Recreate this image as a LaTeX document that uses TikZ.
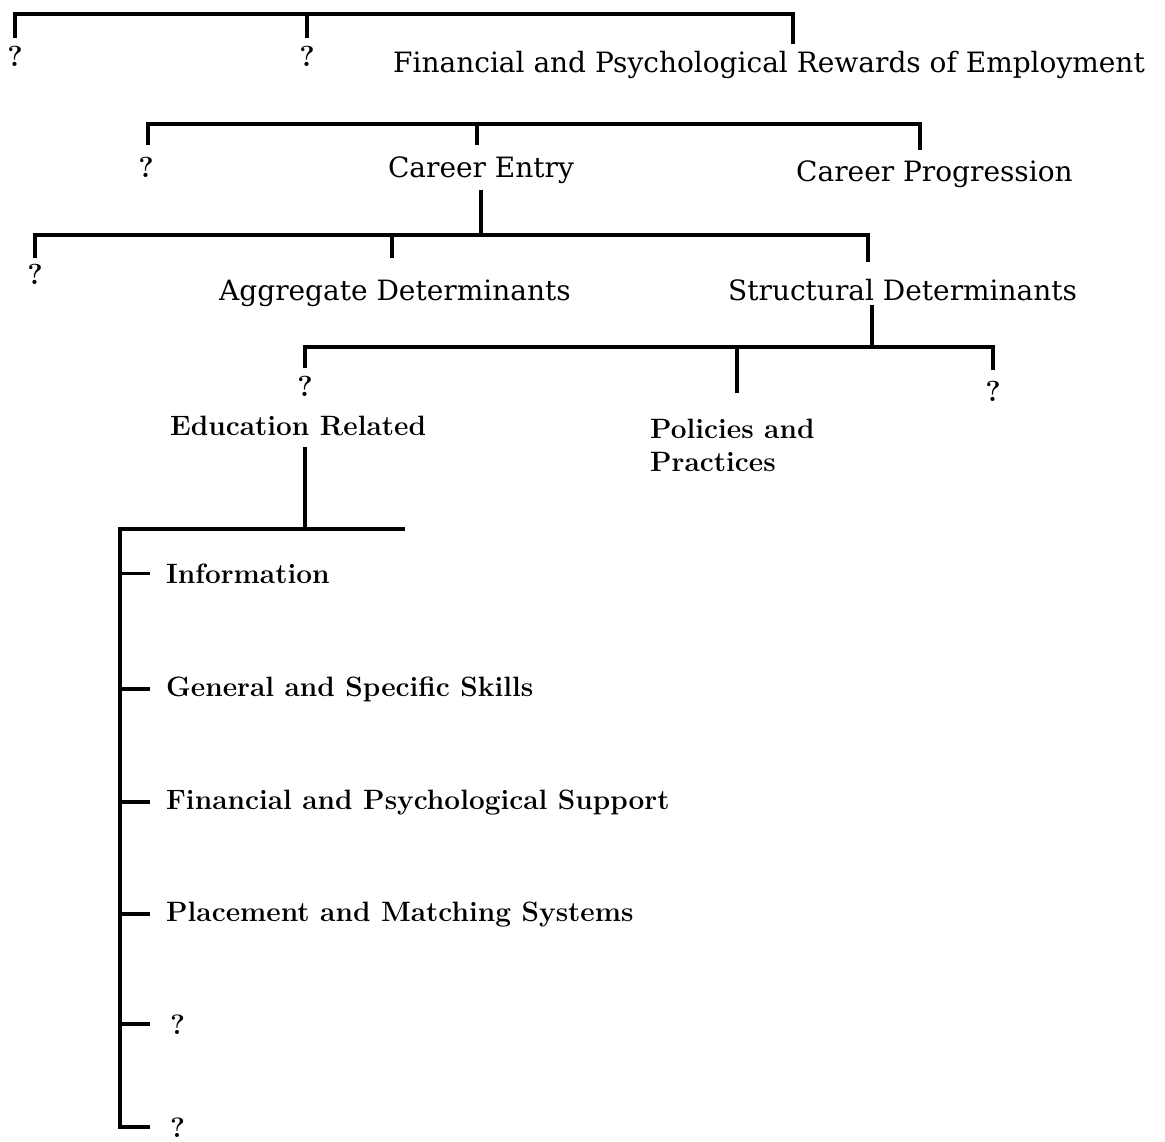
\documentclass[tikz,border=0pt]{standalone}
\usepackage{fontspec}
\newfontfamily\dvserif{DejaVu Serif}
\begin{document}
\begin{tikzpicture}[x=1pt,y=-1pt,
  lab/.style={anchor=base west, inner sep=0pt, font=\dvserif\fontsize{28}{34}\selectfont},
  blab/.style={anchor=base west, inner sep=0pt, font=\fontsize{28}{33}\selectfont\bfseries},
  qm/.style={anchor=base, inner sep=0pt, font=\fontsize{29}{33}\selectfont\bfseries},
  ln/.style={line width=3.5pt, line cap=butt, line join=miter}]
\useasboundingbox (0,0) rectangle (1165,1142);

% level 1
\node[qm] (q1) at (15,67) {?};
\node[qm] (q2) at (307,67) {?};
\node[lab] (fin) at (393,73) {Financial and Psychological Rewards of Employment};
\coordinate (b1l) at (15,38);
\coordinate (b1r) at (793,44);
\coordinate (b1m) at (307,38);
\draw[ln] (b1l) |- (b1r |- 0,14) -- (b1r);
\draw[ln] (b1m) -- (b1m |- 0,14);

% level 2
\node[qm] (q3) at (146,178) {?};
\node[lab, anchor=base] (entry) at (481,178) {Career Entry};
\node[lab] (prog) at (796,182) {Career Progression};
\coordinate (b2l) at (148,145);
\coordinate (b2r) at (920,150);
\coordinate (b2m) at (477,145);
\draw[ln] (b2l) |- (b2r |- 0,124) -- (b2r);
\draw[ln] (b2m) -- (b2m |- 0,124);

% level 3
\coordinate (s3) at (481,235);
\draw[ln] (entry.south |- 0,190) -- (s3);
\node[qm] (q4) at (35,284) {?};
\node[lab] (agg) at (219,300) {Aggregate Determinants};
\node[lab] (str) at (728,300) {Structural Determinants};
\coordinate (b3l) at (35,258);
\coordinate (b3r) at (868,262);
\coordinate (b3m) at (392,258);
\draw[ln] (b3l) |- (b3r |- 0,235) -- (b3r);
\draw[ln] (b3m) -- (b3m |- 0,235);

% level 4
\coordinate (s4a) at (872,305);
\coordinate (s4b) at (872,347);
\draw[ln] (s4a) -- (s4b);
\node[qm] (q5) at (305,396) {?};
\node[blab] (edu) at (170,435) {Education Related};
\node[blab, align=left] (pol) at (650,471) {Policies and\\[0pt]Practices};
\node[qm] (q6) at (993,401) {?};
\coordinate (b4l) at (305,368);
\coordinate (b4r) at (993,370);
\coordinate (b4m) at (737,393);
\draw[ln] (b4l) |- (b4r |- 0,347) -- (b4r);
\draw[ln] (b4m) -- (b4m |- 0,347);

% level 5
\coordinate (s5a) at (305,447);
\coordinate (s5b) at (305,529);
\draw[ln] (s5a) -- (s5b);
\coordinate (h5r) at (405,529);
\coordinate (h5l) at (120,529);
\coordinate (h5b) at (150,1127);
\node[blab] (i1) at (166,583) {Information};
\node[blab] (i2) at (166,696) {General and Specific Skills};
\node[blab] (i3) at (166,809) {Financial and Psychological Support};
\node[blab] (i4) at (166,921) {Placement and Matching Systems};
\node[blab] (i5) at (170,1034) {?};
\node[blab] (i6) at (170,1137) {?};
\draw[ln] (h5r) -- (h5l) |- (h5b);
\foreach \n in {i1,i2,i3,i4,i5} {
  \draw[ln] (120,0 |- \n.west) -- (150,0 |- \n.west);
}
\end{tikzpicture}
\end{document}
